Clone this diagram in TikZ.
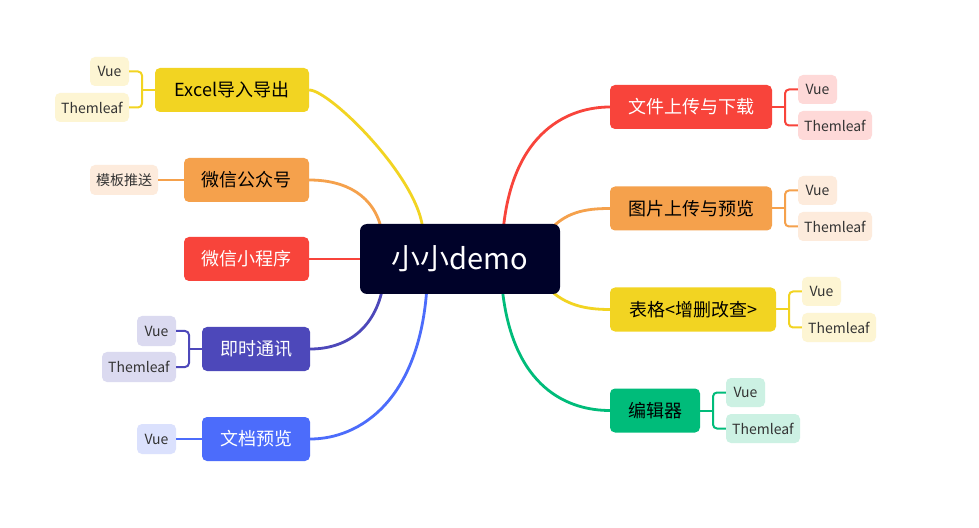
\documentclass[tikz,border=0pt]{standalone}
\usepackage{fontspec}
\setmainfont{Noto Sans CJK SC}
\usetikzlibrary{backgrounds}
\definecolor{cnavy}{HTML}{000229}
\definecolor{cyel}{HTML}{F2D422}
\definecolor{cyelL}{HTML}{FDF5D3}
\definecolor{cora}{HTML}{F5A14C}
\definecolor{coraL}{HTML}{FDEBDC}
\definecolor{cred}{HTML}{F8443B}
\definecolor{credL}{HTML}{FED9D8}
\definecolor{cpur}{HTML}{4D48BA}
\definecolor{cpurL}{HTML}{DBDAF0}
\definecolor{cblu}{HTML}{4C6CFB}
\definecolor{cbluL}{HTML}{DBE1FD}
\definecolor{cgrn}{HTML}{00BC7A}
\definecolor{cgrnL}{HTML}{CCF1E3}
\definecolor{subtext}{HTML}{333333}
\tikzset{
  mainbox/.style={rounded corners=5bp, minimum height=44bp, inner sep=0pt, font=\fontsize{18bp}{20bp}\selectfont},
  subbox/.style={rounded corners=5bp, minimum height=29bp, inner sep=0pt, text=subtext, font=\fontsize{14bp}{16bp}\selectfont},
  conn/.style={line width=2.8bp},
  brk/.style={line width=2bp, rounded corners=4bp},
}
\begin{document}
\begin{tikzpicture}[x=1bp,y=-1bp]
\useasboundingbox (0,0) rectangle (979,528);
% centre
\node[fill=cnavy, rounded corners=7bp, minimum width=200bp, minimum height=70bp, inner sep=0pt, text=white, font=\fontsize{29bp}{31bp}\selectfont] (c) at (460,259) {小小demo};
% left main nodes
\node[mainbox, fill=cyel, minimum width=154bp, text=black] (e1) at (232,90) {Excel导入导出};
\node[mainbox, fill=cora, minimum width=125bp, text=black] (e2) at (246.5,180) {微信公众号};
\node[mainbox, fill=cred, minimum width=125bp, text=white] (e3) at (246.5,259) {微信小程序};
\node[mainbox, fill=cpur, minimum width=108bp, text=white] (e4) at (256,349) {即时通讯};
\node[mainbox, fill=cblu, minimum width=108bp, text=white] (e5) at (256,439) {文档预览};
% left sub nodes
\node[subbox, fill=cyelL, minimum width=39bp] (e1v) at (109.5,71.5) {Vue};
\node[subbox, fill=cyelL, minimum width=74bp] (e1t) at (92,107.5) {Themleaf};
\node[subbox, fill=coraL, minimum width=68bp, minimum height=30bp] (e2m) at (124,180) {模板推送};
\node[subbox, fill=cpurL, minimum width=39bp, minimum height=30bp] (e4v) at (156.5,331) {Vue};
\node[subbox, fill=cpurL, minimum width=74bp, minimum height=30bp] (e4t) at (139,367) {Themleaf};
\node[subbox, fill=cbluL, minimum width=39bp, minimum height=30bp] (e5v) at (156.5,439) {Vue};
% right main nodes
\node[mainbox, fill=cred, minimum width=162bp, text=white] (f1) at (691,107) {文件上传与下载};
\node[mainbox, fill=cora, minimum width=162bp, text=black] (f2) at (691,208.5) {图片上传与预览};
\node[mainbox, fill=cyel, minimum width=166bp, text=black] (f3) at (693,309.5) {表格<增删改查>};
\node[mainbox, fill=cgrn, minimum width=90bp, text=black] (f4) at (655,410.5) {编辑器};
% right sub nodes
\node[subbox, fill=credL, minimum width=39bp] (f1v) at (817.5,89.5) {Vue};
\node[subbox, fill=credL, minimum width=74bp] (f1t) at (835,125.5) {Themleaf};
\node[subbox, fill=coraL, minimum width=39bp] (f2v) at (817.5,190.5) {Vue};
\node[subbox, fill=coraL, minimum width=74bp] (f2t) at (835,226.5) {Themleaf};
\node[subbox, fill=cyelL, minimum width=39bp] (f3v) at (821.5,291.5) {Vue};
\node[subbox, fill=cyelL, minimum width=74bp] (f3t) at (839,327.5) {Themleaf};
\node[subbox, fill=cgrnL, minimum width=39bp] (f4v) at (745.5,392.5) {Vue};
\node[subbox, fill=cgrnL, minimum width=74bp] (f4t) at (763,428.5) {Themleaf};
% anchor points on the centre box
\coordinate (cE1) at (423,232);
\coordinate (cE2) at (382,232);
\coordinate (cE4) at (383,286);
\coordinate (cE5) at (427,286);
\coordinate (cF1) at (503,232);
\coordinate (cF2) at (548,232);
\coordinate (cF3) at (548,288);
\coordinate (cF4) at (502,286);
% bracket joints
\coordinate (b1) at (142,90);
\coordinate (b4) at (189,349);
\coordinate (d1) at (785,107);
\coordinate (d2) at (785,208.5);
\coordinate (d3) at (789,309.5);
\coordinate (d4) at (713,410.5);
\begin{scope}[on background layer]
\fill[white] (0,0) rectangle (979,528);
\draw[conn, cyel] (cE1) .. controls (421,180) and (330,90) .. (e1.east);
\draw[conn, cora] (cE2) .. controls (375,195) and (345,180) .. (e2.east);
\draw[conn, cred] (c.west) -- (e3.east);
\draw[conn, cpur] (cE4) .. controls (375,330) and (345,349) .. (e4.east);
\draw[conn, cblu] (cE5) .. controls (420,400) and (360,439) .. (e5.east);
\draw[conn, cred] (cF1) .. controls (512,130) and (570,107) .. (f1.west);
\draw[conn, cora] (cF2) .. controls (565,212) and (585,208.5) .. (f2.west);
\draw[conn, cyel] (cF3) .. controls (565,305) and (585,309.5) .. (f3.west);
\draw[conn, cgrn] (cF4) .. controls (512,390) and (570,410.5) .. (f4.west);
\end{scope}
% brackets
\draw[brk, cyel] (e1v.east) -| (b1) |- (e1t.east);
\draw[brk, cyel] (b1) -- (e1.west);
\draw[brk, cora] (e2m.east) -- (e2.west);
\draw[brk, cpur] (e4v.east) -| (b4) |- (e4t.east);
\draw[brk, cpur] (b4) -- (e4.west);
\draw[brk, cblu] (e5v.east) -- (e5.west);
\draw[brk, cred] (f1v.west) -| (d1) |- (f1t.west);
\draw[brk, cred] (d1) -- (f1.east);
\draw[brk, cora] (f2v.west) -| (d2) |- (f2t.west);
\draw[brk, cora] (d2) -- (f2.east);
\draw[brk, cyel] (f3v.west) -| (d3) |- (f3t.west);
\draw[brk, cyel] (d3) -- (f3.east);
\draw[brk, cgrn] (f4v.west) -| (d4) |- (f4t.west);
\draw[brk, cgrn] (d4) -- (f4.east);
\end{tikzpicture}
\end{document}
